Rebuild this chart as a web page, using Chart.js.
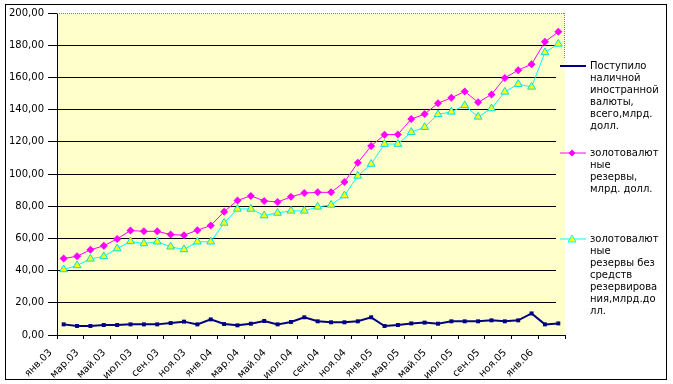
<!DOCTYPE html>
<html>
<head>
<meta charset="utf-8">
<script src="https://cdn.jsdelivr.net/npm/chart.js@4/dist/chart.umd.min.js"></script>
<style>
html,body{margin:0;padding:0;background:#fff;}
#wrap{position:relative;width:673px;height:384px;overflow:hidden;}
#c{position:absolute;left:0;top:0;}
.frame{position:absolute;left:5px;top:4px;width:662px;height:376px;box-sizing:border-box;border:1px solid #000;pointer-events:none;}
.leg{position:absolute;left:590px;font-family:"DejaVu Sans",sans-serif;font-size:10px;line-height:12px;white-space:nowrap;color:#000;}
.sw{position:absolute;left:558px;}
</style>
</head>
<body>
<div id="wrap">
<canvas id="c" width="673" height="384"></canvas>
<div class="frame"></div>
<svg class="sw" style="top:60px" width="32" height="12"><line x1="2" y1="6" x2="28" y2="6" stroke="#000080" stroke-width="2"/></svg>
<div class="leg" style="top:60px">Поступило<br>наличной<br>иностранной<br>валюты,<br>всего,млрд.<br>долл.</div>
<svg class="sw" style="top:147px" width="32" height="12"><line x1="2" y1="6" x2="28" y2="6" stroke="#ff00ff" stroke-width="1"/><polygon points="14,2.5 17.5,6 14,9.5 10.5,6" fill="#ff00ff"/></svg>
<div class="leg" style="top:147px">золотовалют<br>ные<br>резервы,<br>млрд. долл.</div>
<svg class="sw" style="top:233px" width="32" height="12"><line x1="2" y1="6" x2="28" y2="6" stroke="#00ffff" stroke-width="1"/><polygon points="14,2 18,9 10,9" fill="#ffff00" stroke="#00ffff" stroke-width="1"/></svg>
<div class="leg" style="top:233px">золотовалют<br>ные<br>резервы без<br>средств<br>резервирова<br>ния,млрд.до<br>лл.</div>
</div>
<script>
const months = ['янв.03','фев.03','мар.03','апр.03','май.03','июн.03','июл.03','авг.03','сен.03','окт.03','ноя.03','дек.03',
  'янв.04','фев.04','мар.04','апр.04','май.04','июн.04','июл.04','авг.04','сен.04','окт.04','ноя.04','дек.04',
  'янв.05','фев.05','мар.05','апр.05','май.05','июн.05','июл.05','авг.05','сен.05','окт.05','ноя.05','дек.05',
  'янв.06','фев.06'];
const cashInflow = [6.6,5.6,5.6,6.2,6.2,6.6,6.6,6.6,7.4,8.3,6.6,9.7,6.8,6.0,7.0,8.7,6.6,8.1,11.0,8.5,
  7.9,7.9,8.5,11.0,5.6,6.2,7.2,7.7,7.0,8.5,8.5,8.5,9.1,8.5,9.1,13.4,6.6,7.2];
const reserves = [47.5,48.9,52.9,55.4,59.7,64.9,64.4,64.4,62.4,62.0,65.1,68.0,76.6,83.6,86.4,83.3,82.6,85.8,88.2,88.6,
  88.6,95.0,107.0,117.4,124.4,124.6,134.1,137.2,144.0,147.3,151.3,144.5,149.4,159.7,164.5,168.2,182.1,188.3];
const reservesNet = [40.7,43.2,47.3,48.8,53.7,58.1,56.8,57.9,54.8,53.1,57.9,57.9,69.6,78.3,78.3,74.2,75.8,77.1,77.1,79.6,
  80.8,86.6,98.8,106.2,118.6,118.6,126.0,129.1,137.0,138.6,142.6,135.5,140.7,151.0,155.8,154.1,175.5,180.8];
const seriesNames = [
  'Поступило наличной иностранной валюты, всего,млрд. долл.',
  'золотовалютные резервы, млрд. долл.',
  'золотовалютные резервы без средств резервирования,млрд.долл.'
];
const yMin = 0, yMax = 200, yStep = 20;

const FONT = {family:'"DejaVu Sans", sans-serif', size:10};
const PLOT_BG = '#ffffcc';

const plotBg = {
  id:'plotBg',
  beforeDraw(chart){
    const {ctx, chartArea:a} = chart;
    ctx.save();
    ctx.fillStyle = PLOT_BG;
    ctx.fillRect(a.left, a.top, a.right - a.left, a.bottom - a.top);
    ctx.restore();
  },
  beforeDatasetsDraw(chart){
    const {ctx, chartArea:a} = chart;
    ctx.save();
    ctx.fillStyle = PLOT_BG;
    ctx.fillRect(a.right - 9, a.top + 1, 9, a.bottom - a.top - 2);
    ctx.strokeStyle = '#808080';
    ctx.lineWidth = 1;
    ctx.setLineDash([1,1]);
    ctx.beginPath();
    ctx.moveTo(a.left, a.top + 0.5); ctx.lineTo(a.right, a.top + 0.5);
    ctx.moveTo(a.right - 0.5, a.top); ctx.lineTo(a.right - 0.5, a.top + 45);
    ctx.stroke();
    ctx.restore();
  }
};

new Chart(document.getElementById('c'), {
  type:'line',
  data:{
    labels: months,
    datasets:[
      {label:seriesNames[0], data:cashInflow, borderColor:'#000080', backgroundColor:'#000080',
       borderWidth:2, pointStyle:'rect', pointRadius:2.8, pointBorderWidth:0, pointBackgroundColor:'#000080', tension:0},
      {label:seriesNames[1], data:reserves, borderColor:'#ff00ff', backgroundColor:'#ff00ff',
       borderWidth:1, pointStyle:'rectRot', pointRadius:4, pointBorderWidth:0, pointBackgroundColor:'#ff00ff', tension:0},
      {label:seriesNames[2], data:reservesNet, borderColor:'#00ffff', backgroundColor:'#ffff00',
       borderWidth:1, pointStyle:'triangle', pointRadius:4.5, pointBorderWidth:1, pointBorderColor:'#00e0e0', pointBackgroundColor:'#ffff00', tension:0}
    ]
  },
  options:{
    responsive:false, animation:false, devicePixelRatio:1,
    layout:{padding:{left:0, top:13, right:108, bottom:0}},
    plugins:{legend:{display:false}, tooltip:{enabled:false}},
    scales:{
      x:{
        type:'category', offset:true,
        grid:{offset:true, drawOnChartArea:false, drawTicks:true, tickLength:4,
          tickColor:(c)=> (c.index === undefined || c.index % 2 === 0) ? '#000' : 'rgba(0,0,0,0)'},
        border:{display:true, color:'#000', width:1},
        ticks:{autoSkip:false, maxRotation:45, minRotation:45, labelOffset:-13, padding:8,
          font:FONT, color:'#000', callback:(v,i)=> i % 2 === 0 ? months[i] : ''},
        afterFit:(s)=>{ s.height = 49; s.paddingLeft = 0; s.paddingRight = 0; }
      },
      y:{
        min:yMin, max:yMax,
        ticks:{stepSize:yStep, font:FONT, color:'#000', padding:4,
          callback:(v)=> Number(v).toFixed(2).replace('.', ',')},
        grid:{color:(c)=> (c.tick && c.tick.value === yMax) ? 'rgba(0,0,0,0)' : '#000',
          tickColor:'#000', tickLength:9, lineWidth:1},
        border:{display:true, color:'#000', width:1},
        afterFit:(s)=>{ s.width = 57; }
      }
    }
  },
  plugins:[plotBg]
});
</script>
</body>
</html>
